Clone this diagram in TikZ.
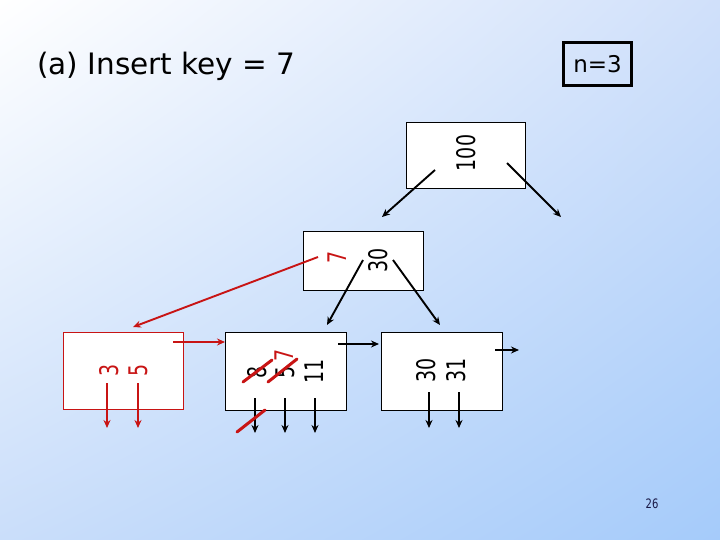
\documentclass[tikz,border=0pt]{standalone}
\usepackage{fontspec}
\setmainfont{DejaVu Sans}
\usetikzlibrary{arrows.meta, shadings}

\definecolor{bgTL}{RGB}{255,255,255}
\definecolor{bgTR}{RGB}{208,224,250}
\definecolor{bgBL}{RGB}{202,222,250}
\definecolor{bgBR}{RGB}{165,203,250}
\definecolor{keyred}{RGB}{200,20,20}
\definecolor{pagenum}{RGB}{25,25,70}

\newcommand{\keytext}[1]{\scalebox{1}[1.35]{#1}}

\tikzset{
  boxnode/.style={draw=black, fill=white, line width=0.9pt, inner sep=0pt},
  redbox/.style={draw=keyred, fill=white, line width=0.9pt, inner sep=0pt},
  keytxt/.style={rotate=90, inner sep=0pt, font=\fontsize{19}{19}\selectfont},
  redkey/.style={keytxt, text=keyred},
  ptr/.style={line width=1.9pt, -{Stealth[length=8pt,width=7pt]}},
  redptr/.style={ptr, draw=keyred},
  strike/.style={draw=keyred, line width=3pt, line cap=round}
}

\begin{document}
\begin{tikzpicture}[x=1pt, y=-1pt]
  \useasboundingbox (0,0) rectangle (720,540);
  \shade[upper left=bgTL, upper right=bgTR, lower left=bgBL, lower right=bgBR]
    (0,0) rectangle (720,540);

  % title and parameter
  \node[anchor=west, inner sep=0pt, font=\fontsize{29.5}{29.5}\selectfont] (title) at (37,66) {(a) Insert key = 7};
  \node[draw=black, line width=2.5pt, minimum width=68, minimum height=43, inner sep=0pt,
        font=\fontsize{23}{23}\selectfont] (param) at (597.5,64) {n=3};

  % tree nodes
  \node[boxnode, minimum width=119, minimum height=66] (rootbox) at (465.5,155) {};
  \node[boxnode, minimum width=120, minimum height=59] (innerbox) at (363,260.5) {};
  \node[redbox,  minimum width=120, minimum height=77] (leftbox) at (123,370.5) {};
  \node[boxnode, minimum width=121, minimum height=78] (midbox) at (285.5,371) {};
  \node[boxnode, minimum width=121, minimum height=78] (rightbox) at (441.5,371) {};

  % keys
  \node[keytxt] (k100) at (466,153) {\keytext{100}};
  \node[keytxt] (k30) at (378,260) {\keytext{30}};
  \node[redkey] (knew) at (337.5,257.5) {\keytext{7}};
  \node[redkey] (ka) at (109,370.5) {\keytext{3}};
  \node[redkey] (kb) at (138.5,370.5) {\keytext{5}};
  \node[keytxt] (kc) at (257.5,372) {\keytext{8}};
  \node[keytxt] (kd) at (285,372) {\keytext{5}};
  \node[redkey] (ke) at (284,355) {\keytext{7}};
  \node[keytxt] (kf) at (314.5,371) {\keytext{11}};
  \node[keytxt] (kg) at (426.5,370.5) {\keytext{30}};
  \node[keytxt] (kh) at (456,370.5) {\keytext{31}};

  % pointer ends
  \coordinate (p1s) at (435,170);  \coordinate (p1e) at (382,217);
  \coordinate (p2s) at (507,163);  \coordinate (p2e) at (561,217);
  \coordinate (p3s) at (363,260);  \coordinate (p3e) at (327,325);
  \coordinate (p4s) at (393,260);  \coordinate (p4e) at (440,325);
  \coordinate (p5s) at (318,257);  \coordinate (p5e) at (133,327);
  \coordinate (p6s) at (173,342);  \coordinate (p6e) at (225,342);
  \coordinate (p7s) at (338,344);  \coordinate (p7e) at (379,344);
  \coordinate (p8s) at (495,350);  \coordinate (p8e) at (519,350);

  \draw[ptr] (p1s) -- (p1e);
  \draw[ptr] (p2s) -- (p2e);
  \draw[ptr] (p3s) -- (p3e);
  \draw[ptr] (p4s) -- (p4e);
  \draw[redptr] (p5s) -- (p5e);
  \draw[redptr] (p6s) -- (p6e);
  \draw[ptr] (p7s) -- (p7e);
  \draw[ptr] (p8s) -- (p8e);

  % child pointers below the keys
  \foreach \x in {107,138} \draw[redptr] (\x,383) -- (\x,428);
  \foreach \x in {255,285,315} \draw[ptr] (\x,398) -- (\x,433);
  \foreach \x in {429,459} \draw[ptr] (\x,392) -- (\x,428);

  % struck out entries
  \draw[strike] (243,382) -- (272,360);
  \draw[strike] (268,382) -- (297,359);
  \draw[strike] (237,432) -- (265,410);

  \node[text=pagenum, inner sep=0pt, font=\fontsize{10}{10}\selectfont] (pageno) at (652,504) {\scalebox{1}[1.3]{26}};
\end{tikzpicture}
\end{document}
